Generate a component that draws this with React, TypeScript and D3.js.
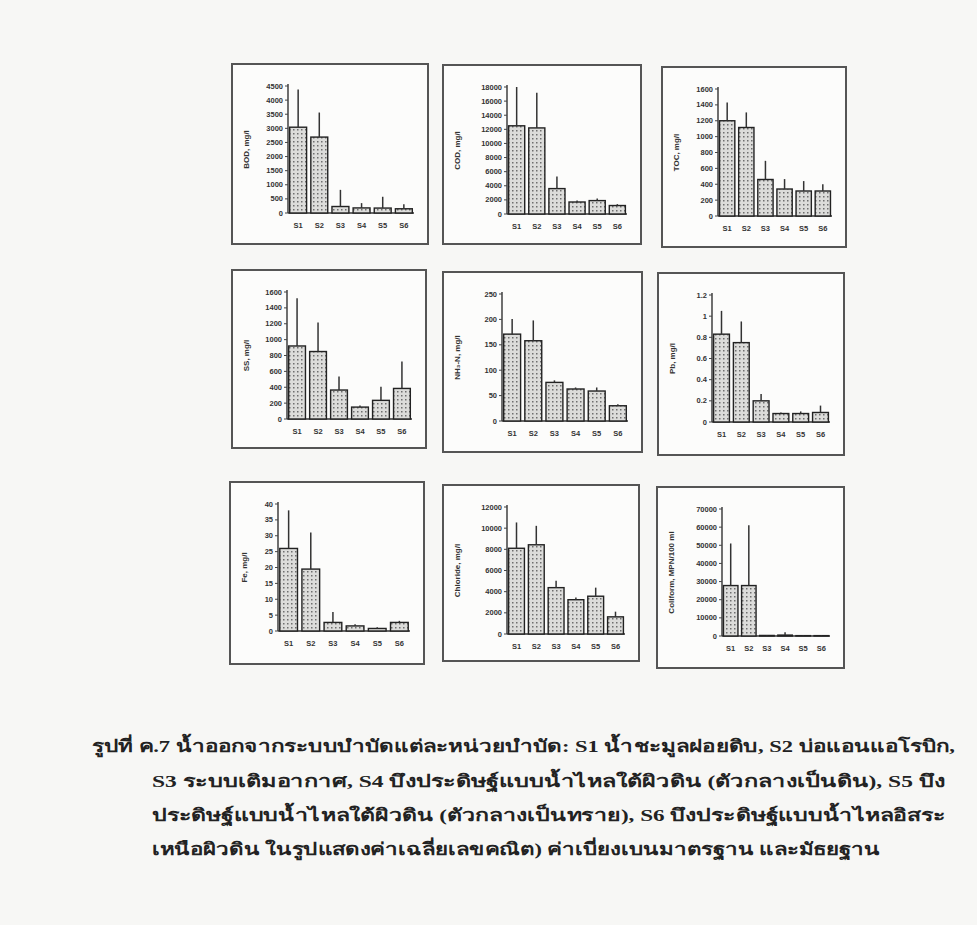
import React from "react";
import * as d3 from "d3";

// sampling points
const categories = ["S1", "S2", "S3", "S4", "S5", "S6"];

// means and standard deviations
const bodMean = [3040, 2690, 230, 180, 175, 150];
const bodSd = [1340, 870, 590, 170, 400, 160];
const bodTicks = [0, 500, 1000, 1500, 2000, 2500, 3000, 3500, 4000, 4500];

const codMean = [12500, 12200, 3600, 1700, 1900, 1200];
const codSd = [5500, 5000, 1700, 200, 300, 200];
const codTicks = [0, 2000, 4000, 6000, 8000, 10000, 12000, 14000, 16000, 18000];

const tocMean = [1200, 1115, 460, 340, 315, 315];
const tocSd = [230, 190, 235, 125, 125, 85];
const tocTicks = [0, 200, 400, 600, 800, 1000, 1200, 1400, 1600];

const ssMean = [920, 850, 365, 150, 235, 385];
const ssSd = [600, 365, 170, 20, 170, 340];
const ssTicks = [0, 200, 400, 600, 800, 1000, 1200, 1400, 1600];

const nh3Mean = [171, 158, 76, 63, 59, 30];
const nh3Sd = [30, 40, 4, 3, 7, 3];
const nh3Ticks = [0, 50, 100, 150, 200, 250];

const pbMean = [0.83, 0.75, 0.2, 0.08, 0.08, 0.09];
const pbSd = [0.22, 0.2, 0.065, 0.01, 0.02, 0.065];
const pbTicks = [0, 0.2, 0.4, 0.6, 0.8, 1, 1.2];

const feMean = [26, 19.5, 2.7, 1.6, 0.8, 2.7];
const feSd = [12, 11.5, 3.3, 0.5, 0.4, 0.5];
const feTicks = [0, 5, 10, 15, 20, 25, 30, 35, 40];

const clMean = [8100, 8430, 4380, 3240, 3570, 1620];
const clSd = [2440, 1790, 650, 200, 810, 490];
const clTicks = [0, 2000, 4000, 6000, 8000, 10000, 12000];

const colMean = [27800, 27800, 300, 500, 200, 200];
const colSd = [23200, 33200, 300, 1500, 200, 300];
const colTicks = [0, 10000, 20000, 30000, 40000, 50000, 60000, 70000];

const captionLines = [
  "รูปที่ ค.7 น้ำออกจากระบบบำบัดแต่ละหน่วยบำบัด: S1 น้ำชะมูลฝอยดิบ, S2 บ่อแอนแอโรบิก,",
  "S3 ระบบเติมอากาศ, S4 บึงประดิษฐ์แบบน้ำไหลใต้ผิวดิน (ตัวกลางเป็นดิน), S5 บึง",
  "ประดิษฐ์แบบน้ำไหลใต้ผิวดิน (ตัวกลางเป็นทราย), S6 บึงประดิษฐ์แบบน้ำไหลอิสระ",
  "เหนือผิวดิน ในรูปแสดงค่าเฉลี่ยเลขคณิต) ค่าเบี่ยงเบนมาตรฐาน และมัธยฐาน",
];

const panels = [
  { title: "BOD, mg/l", mean: bodMean, sd: bodSd, ticks: bodTicks },
  { title: "COD, mg/l", mean: codMean, sd: codSd, ticks: codTicks },
  { title: "TOC, mg/l", mean: tocMean, sd: tocSd, ticks: tocTicks },
  { title: "SS, mg/l", mean: ssMean, sd: ssSd, ticks: ssTicks },
  { title: "NH\u2083-N, mg/l", mean: nh3Mean, sd: nh3Sd, ticks: nh3Ticks },
  { title: "Pb, mg/l", mean: pbMean, sd: pbSd, ticks: pbTicks },
  { title: "Fe, mg/l", mean: feMean, sd: feSd, ticks: feTicks },
  { title: "Chloride, mg/l", mean: clMean, sd: clSd, ticks: clTicks },
  { title: "Coliform, MPN/100 ml", mean: colMean, sd: colSd, ticks: colTicks },
];

// frame boxes: x, y, w, h, y-axis offset
const boxes = [
  [232, 64, 196, 180, 56],
  [443, 65, 198, 179, 64],
  [662, 67, 184, 180, 56],
  [232, 270, 194, 178, 55],
  [443, 272, 199, 180, 59],
  [658, 273, 186, 182, 54],
  [230, 482, 194, 182, 48],
  [443, 485, 196, 176, 64],
  [657, 487, 187, 181, 65],
];

const fmt = (v: number) => (Number.isInteger(v) ? String(v) : d3.format(".1f")(v));

function Panel({ p, box }: any) {
  const [bx, by, bw, bh, ax] = box;
  const top = 22;
  const zero = 149;
  const right = bw - 14;

  const x = d3.scaleBand().domain(categories).range([ax, right]).paddingInner(0.2).paddingOuter(0.08);
  const y = d3.scaleLinear().domain([0, p.ticks[p.ticks.length - 1]]).range([zero, top]);

  return (
    <g transform={`translate(${bx},${by})`}>
      <rect x={0} y={0} width={bw} height={bh} fill="#fcfcfb" stroke="#555" strokeWidth={2} />
      <line x1={ax} x2={ax} y1={top - 2} y2={zero} stroke="#333" strokeWidth={1.4} />
      <line x1={ax} x2={right} y1={zero} y2={zero} stroke="#333" strokeWidth={1.4} />
      {p.ticks.map((t: number) => (
        <g key={t}>
          <line x1={ax - 3} x2={ax} y1={y(t)} y2={y(t)} stroke="#444" />
          <text x={ax - 5} y={y(t) + 2.5} textAnchor="end" fontSize={7.5} fontWeight="bold" fill="#333" fontFamily="Liberation Sans, sans-serif">
            {fmt(t)}
          </text>
        </g>
      ))}
      {categories.map((c, i) => {
        const bxp = x(c) as number;
        const w = x.bandwidth();
        const ym = y(p.mean[i]);
        const ye = y(p.mean[i] + p.sd[i]);
        return (
          <g key={c}>
            <rect x={bxp} y={ym} width={w} height={zero - ym} fill="url(#dots)" stroke="#222" strokeWidth={1.4} />
            <line x1={bxp + w / 2} x2={bxp + w / 2} y1={ym} y2={ye} stroke="#333" strokeWidth={1.5} />
            <text x={bxp + w / 2} y={zero + 15} textAnchor="middle" fontSize={7.5} fontWeight="bold" fill="#333" fontFamily="Liberation Sans, sans-serif">
              {c}
            </text>
          </g>
        );
      })}
      <text
        transform={`translate(${17},${(top + zero) / 2}) rotate(-90)`}
        textAnchor="middle"
        fontSize={8}
        fontWeight="bold"
        fill="#333"
        fontFamily="Liberation Sans, sans-serif"
      >
        {p.title}
      </text>
    </g>
  );
}

export default function App() {
  const lineX = [92, 152, 152, 152];
  const lineY = [752, 787, 821, 855];
  const lineW = [863, 793, 793, 728];
  return (
    <svg width={977} height={925} style={{ position: "absolute", left: 0, top: 0 }}>
      <defs>
        <pattern id="dots" width={4} height={4} patternUnits="userSpaceOnUse">
          <rect width={4} height={4} fill="#dcdcda" />
          <rect x={1} y={1} width={1.5} height={1.5} fill="#6e6e6e" />
        </pattern>
      </defs>
      <rect width={977} height={925} fill="#f7f7f5" />
      {panels.map((p, i) => (
        <Panel key={i} p={p} box={boxes[i]} />
      ))}
      {captionLines.map((t, i) => (
        <text
          key={i}
          x={lineX[i]}
          y={lineY[i]}
          fontSize={17}
          fontWeight="bold"
          fill="#222"
          textLength={lineW[i]}
          lengthAdjust="spacingAndGlyphs"
        >
          {t}
        </text>
      ))}
    </svg>
  );
}
